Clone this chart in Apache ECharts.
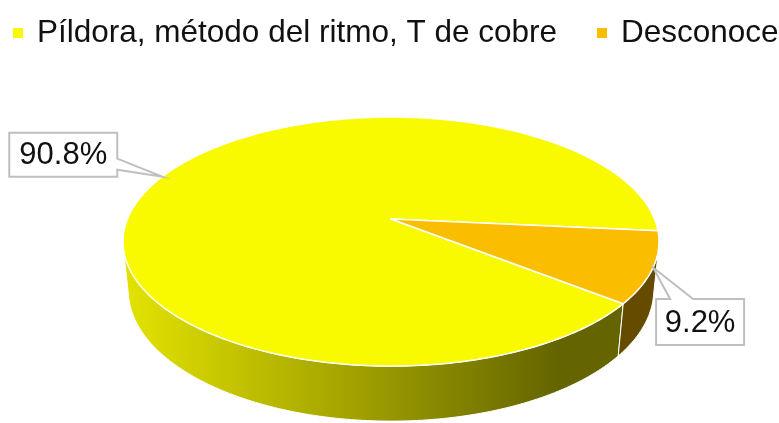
<!DOCTYPE html>
<html><head><meta charset="utf-8">
<script src="https://cdn.jsdelivr.net/npm/echarts@6/dist/echarts.min.js"></script>
<style>html,body{margin:0;padding:0;background:#fff;overflow:hidden}#c{width:779px;height:423px}</style>
</head><body><div id="c"></div>
<script>
// ---- data ----
const categories = ['Píldora, método del ritmo, T de cobre', 'Desconoce'];
const values = [90.8, 9.2];
const labelTexts = ['90.8%', '9.2%'];

// ---- styles / layout ----
const topColors = ['#F9F900', '#FBBD00'];
const FONT = '"Liberation Sans", Arial, sans-serif';
const START_DEG = 38.6;          // rotation of first slice
const CX = 391, CY = 219, F = 1294, D = 4.91;
const PHI = Math.asin(0.457), SINP = Math.sin(PHI), COSP = Math.cos(PHI);
const H = 0.209;                 // thickness
const VIS = Math.asin(1 / (D * COSP)) * 180 / Math.PI; // visible outer wall range
const labelLayout = [
  {dx: -153, dy: -44, w: 108, h: 44, tail: 'right', t0: -18, t1: -7},
  {dx: 3, dy: 31.5, w: 88, h: 46, tail: 'top', t0: 17, t1: 40}
];

function proj(X, Y, Z) {
  const depth = D - (Y * SINP + Z * COSP);
  return [CX + F * X / depth, CY - F * (Y * COSP - Z * SINP) / depth];
}
function pt(deg, Y) {
  const r = deg * Math.PI / 180;
  return proj(Math.cos(r), Y, Math.sin(r));
}
function arc(a0, a1, Y) {
  const out = [];
  const n = Math.max(2, Math.ceil(Math.abs(a1 - a0)));
  for (let k = 0; k <= n; k++) out.push(pt(a0 + (a1 - a0) * k / n, Y));
  return out;
}
const total = values.reduce((a, b) => a + b, 0);
function angles(i) {
  let s = START_DEG;
  for (let j = 0; j < i; j++) s += values[j] / total * 360;
  return [s, s + values[i] / total * 360];
}

const leftX = pt(180, 0)[0];
const gradRight = CX + 0.63 * (pt(10, 0)[0] - CX);
const wallFills = [
  {type: 'linear', global: true, x: leftX, y: 0, x2: gradRight, y2: 0,
   colorStops: [{offset: 0, color: '#E2E200'}, {offset: 0.5, color: '#A4A400'}, {offset: 1, color: '#646400'}]},
  '#654B00'
];

function renderSlice(params, api) {
  const i = params.seriesIndex;
  const [a0, a1] = angles(i);
  const children = [];
  // top face
  const topPts = [proj(0, 0, 0)].concat(arc(a0, a1, 0));
  children.push({type: 'polygon', z2: 10, shape: {points: topPts},
    style: {fill: topColors[i], stroke: '#fff', lineWidth: 1.5, lineJoin: 'round'}});
  // outer wall (visible part)
  for (let k = -1; k <= 1; k++) {
    const v0 = VIS + 360 * k, v1 = 180 - VIS + 360 * k;
    const s = Math.max(a0, v0), e = Math.min(a1, v1);
    if (e > s) {
      const pts = arc(s, e, 0).concat(arc(e, s, -H));
      children.push({type: 'polygon', z2: 5, shape: {points: pts},
        style: {fill: wallFills[i], stroke: '#fff', lineWidth: 1}});
    }
  }
  // callout label
  const mid = (a0 + a1) / 2;
  const A = pt(mid, 0);
  const L = labelLayout[i];
  const bx = A[0] + L.dx, by = A[1] + L.dy;
  let poly;
  if (L.tail === 'right') {
    poly = [[bx, by], [bx + L.w, by], [bx + L.w, A[1] + L.t0], A, [bx + L.w, A[1] + L.t1],
            [bx + L.w, by + L.h], [bx, by + L.h]];
  } else {
    poly = [[bx, by], [A[0] + L.t0, by], A, [A[0] + L.t1, by], [bx + L.w, by],
            [bx + L.w, by + L.h], [bx, by + L.h]];
  }
  children.push({type: 'polygon', z2: 20, shape: {points: poly},
    style: {fill: '#fff', stroke: '#BFBFBF', lineWidth: 2}});
  children.push({type: 'text', z2: 21, x: bx + L.w / 2, y: by + L.h / 2 + 1,
    style: {text: labelTexts[i], fill: '#111', font: '31px ' + FONT, align: 'center', verticalAlign: 'middle'}});
  return {type: 'group', children};
}

const chart = echarts.init(document.getElementById('c'), null, {renderer: 'canvas'});
chart.setOption({
  backgroundColor: '#fff',
  animation: false,
  legend: {
    left: 8, top: 12, width: 3000, icon: 'rect', itemWidth: 10, itemHeight: 10, itemGap: 40,
    textStyle: {fontSize: 31.5, fontFamily: FONT, color: '#111', padding: [0, 0, 0, 9]},
    data: categories
  },
  series: categories.map((name, i) => ({
    type: 'custom', name, coordinateSystem: 'none',
    itemStyle: {color: topColors[i]},
    data: [[values[i]]],
    renderItem: renderSlice
  }))
});
</script></body></html>
